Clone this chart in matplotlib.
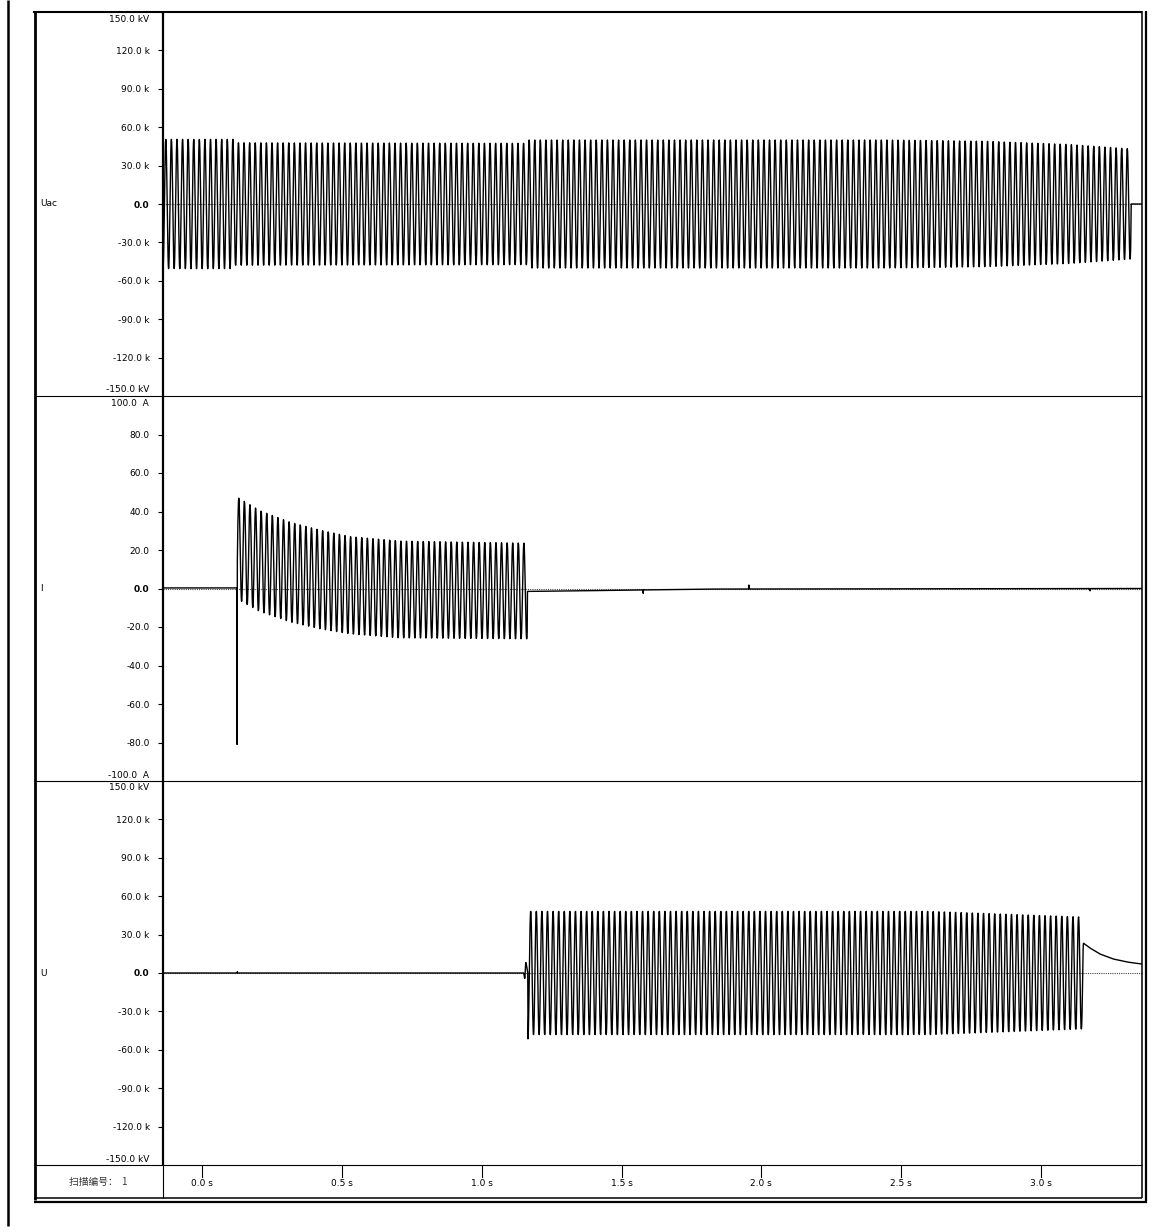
import numpy as np
import matplotlib.pyplot as plt
from matplotlib.lines import Line2D

# ---- record data ----
FS = 1000.0            # samples per second
F0 = 50.0              # power frequency, Hz
T_START, T_END = -0.1406, 3.362

# Uac: peak envelope in kV
uac_env_t = [-0.1406, 0.118, 0.119, 1.168, 1.169, 2.45, 2.80, 3.10, 3.322, 3.323]
uac_env_v = [50.5, 50.5, 47.8, 47.4, 50.0, 50.0, 49.0, 46.5, 43.0, 0.0]

# I: closing at t0, inrush spike, then decaying offset (upper / lower peaks in A)
i_t0 = 0.125
i_pre = 0.3
i_spike_v = [-81.0, 15.0]
i_env_t = [0.131, 0.206, 0.314, 0.421, 0.528, 0.707, 1.162]
i_top_v = [47.0, 40.5, 34.5, 30.4, 27.0, 24.7, 23.6]
i_bot_v = [-6.0, -12.0, -17.4, -21.0, -23.6, -25.7, -26.2]
i_stop = 1.163
i_tail_t = [1.164, 1.30, 1.50, 1.80, 3.362]
i_tail_v = [-1.5, -1.3, -0.9, -0.3, 0.0]
i_blip_t = [1.577, 1.955, 3.176]
i_blip_v = [-2.5, 1.8, -1.2]

# U: line side voltage in kV
u_blip_t = [0.125]
u_blip_v = [1.0]
u_bump_t = [1.150, 1.154, 1.157, 1.160, 1.1645]
u_bump_v = [0.0, -5.0, 8.5, 6.0, 0.0]
u_env_t = [1.165, 1.175, 2.60, 3.152]
u_env_v = [52.0, 48.5, 48.5, 44.0]
u_tail_t = [3.153, 3.176, 3.212, 3.258, 3.308, 3.362]
u_tail_v = [23.2, 19.5, 14.8, 11.0, 8.6, 7.0]

x_ticks = [0.0, 0.5, 1.0, 1.5, 2.0, 2.5, 3.0]
names = ["Uac", "I", "U"]
kv_ticks = [-120, -90, -60, -30, 0, 30, 60, 90, 120]
a_ticks = [-80, -60, -40, -20, 0, 20, 40, 60, 80]

# ---- build the traces ----
t = np.arange(T_START, T_END, 1.0 / FS)
w = 2 * np.pi * F0

uac = -np.interp(t, uac_env_t, uac_env_v) * np.cos(w * (t - T_START))

i_sig = np.full_like(t, i_pre)
on = (t > i_t0) & (t <= i_stop)
top = np.interp(t[on], i_env_t, i_top_v)
bot = np.interp(t[on], i_env_t, i_bot_v)
i_sig[on] = (top + bot) / 2 + (top - bot) / 2 * np.sin(w * (t[on] - i_t0) - 0.2)
k0 = np.searchsorted(t, i_t0)
i_sig[k0 - 1], i_sig[k0] = i_spike_v
off = t > i_stop
i_sig[off] = np.interp(t[off], i_tail_t, i_tail_v)
for bt, bv in zip(i_blip_t, i_blip_v):
    i_sig[np.searchsorted(t, bt)] = bv

u = np.interp(t, u_bump_t, u_bump_v, left=0.0, right=0.0)
for bt, bv in zip(u_blip_t, u_blip_v):
    u[np.searchsorted(t, bt)] = bv
osc = (t >= u_env_t[0]) & (t <= u_env_t[-1])
u[osc] = -np.interp(t[osc], u_env_t, u_env_v) * np.cos(w * (t[osc] - u_env_t[0]))
tail = t > u_env_t[-1]
u[tail] = np.interp(t[tail], u_tail_t, u_tail_v)

# ---- figure ----
W, H = 1167, 1232
fig = plt.figure(figsize=(W / 100, H / 100), dpi=100)
fig.patch.set_facecolor("white")
FS_TXT = 6.5


def rect(x0, y0, x1, y1):
    return [x0 / W, 1 - y1 / H, (x1 - x0) / W, (y1 - y0) / H]


def line(x0, y0, x1, y1, lw=1.0, color="black"):
    fig.add_artist(Line2D([x0 / W, x1 / W], [1 - y0 / H, 1 - y1 / H],
                          transform=fig.transFigure, lw=lw, color=color,
                          solid_capstyle="butt", zorder=10))


def ftext(x, y, s, **kw):
    kw.setdefault("fontsize", FS_TXT)
    fig.text(x / W, 1 - y / H, s, **kw)


panels = [
    (12, 396, uac, 150, kv_ticks, "k", "150.0 kV", "-150.0 kV"),
    (396, 781, i_sig, 100, a_ticks, "", "100.0  A", "-100.0  A"),
    (781, 1165, u, 150, kv_ticks, "k", "150.0 kV", "-150.0 kV"),
]

for (y0, y1, sig, lim, ticks, unit, top_lab, bot_lab), name in zip(panels, names):
    ax = fig.add_axes(rect(163, y0, 1142, y1))
    ax.set_xlim(T_START, T_END)
    ax.set_ylim(-lim, lim)
    for sp in ax.spines.values():
        sp.set_visible(False)
    ax.axhline(0, color="#444444", lw=0.8, ls=(0, (1, 1)), zorder=1)
    ax.plot(t, sig, color="black", lw=1.0, zorder=2)
    labels = []
    for v in ticks:
        if v == 0:
            labels.append("0.0")
        else:
            labels.append(f"{v:.1f} {unit}".rstrip())
    ax.set_yticks(ticks, labels)
    for lab in ax.get_yticklabels():
        if lab.get_text() == "0.0":
            lab.set_fontweight("bold")
    ax.set_xticks([])
    ax.tick_params(axis="y", direction="out", length=3.6, width=0.8,
                   pad=6, labelsize=FS_TXT)
    ftext(149, y0 + 7, top_lab, ha="right", va="center")
    ftext(149, y1 - 6, bot_lab, ha="right", va="center")
    ftext(40, (y0 + y1) / 2, name, ha="left", va="center")

# time strip
strip = fig.add_axes(rect(163, 1165, 1142, 1198))
strip.set_xlim(T_START, T_END)
strip.set_ylim(0, 33)
strip.axis("off")
for tx in x_ticks:
    strip.plot([tx, tx], [33, 21], color="black", lw=0.8)
    strip.text(tx, 15, f"{tx:.1f} s", ha="center", va="center", fontsize=FS_TXT)

ftext(98.5, 1182, "扫描编号：  1", ha="center", va="center", fontsize=7,
      color="#333333", family=["Noto Sans CJK SC", "DejaVu Sans"])

# frame
line(8, 0, 8, 1226, lw=1.8)
line(34.5, 11, 34.5, 1200, lw=2.0)
line(33, 11.5, 1142, 11.5, lw=1.5)
line(1142, 11, 1142, 1198, lw=1.1)
line(1146, 11, 1146, 1203, lw=1.6)
line(34, 1198, 1142, 1198, lw=1.1)
line(34, 1202, 1146.8, 1202, lw=1.6)
line(163, 11, 163, 1165, lw=1.6)
line(163, 1165, 163, 1198, lw=0.8)
for yy in (396, 781, 1165):
    line(34, yy, 1142, yy, lw=0.8)

fig.savefig("out.png", dpi=100, facecolor="white")
